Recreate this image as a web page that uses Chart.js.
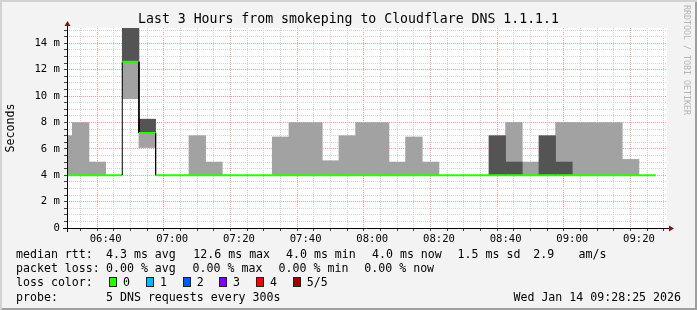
<!DOCTYPE html>
<html>
<head>
<meta charset="utf-8">
<script src="https://cdn.jsdelivr.net/npm/chart.js@4.4.1/dist/chart.umd.min.js"></script>
<style>
html, body { margin: 0; padding: 0; background: #fff; }
#frame {
	position: relative; width: 697px; height: 310px; overflow: hidden;
	background: #f3f3f3;
	box-shadow: inset 2px 2px 0 #d2d2d2, inset -2px -2px 0 #9e9e9e;
	font-family: "DejaVu Sans Mono", monospace; color: #000;
}
#graph { position: absolute; left: 0; top: 0; }
.t { position: absolute; white-space: pre; font-size: 11.6px; line-height: 14px; }
.sq { position: absolute; width: 6px; height: 8px; border: 1px solid #222; }
#title { position: absolute; left: 0; width: 697px; top: 11px; text-align: center; font-size: 13.2px; line-height: 16px; white-space: pre; }
#brand { position: absolute; left: 682px; top: 5px; writing-mode: vertical-rl; font-size: 8.3px; line-height: 10px; color: #b4b4b4; white-space: pre; }
</style>
</head>
<body>
<div id="frame">
	<canvas id="graph" width="697" height="310"></canvas>
	<div id="title">Last 3 Hours from smokeping to Cloudflare DNS 1.1.1.1</div>
	<div id="brand">RRDTOOL / TOBI OETIKER</div>
	<div id="legend"></div>
</div>
<script>
// 5 minute steps, each value holds for the interval that starts at that time
const intervalStart = ['06:25','06:30','06:35','06:40','06:45','06:50','06:55','07:00','07:05','07:10','07:15','07:20',
	'07:25','07:30','07:35','07:40','07:45','07:50','07:55','08:00','08:05','08:10','08:15','08:20',
	'08:25','08:30','08:35','08:40','08:45','08:50','08:55','09:00','09:05','09:10','09:15','09:20'];

// median rtt in ms
const medianMs = [4, 4, 4, 4, 12.6, 7.2, 4, 4, 4, 4, 4, 4,
	4, 4, 4, 4, 4, 4, 4, 4, 4, 4, 4, 4,
	4, 4, 4, 4, 4, 4, 4, 4, 4, 4, 4, 4];

// smoke bands [low, high] in ms
const smokeLight = [[4,7],[4,8],[4,5],null,[9.8,12.6],[6.1,7.2],null,null,[4,7],[4,5],null,null,
	null,[4,6.9],[4,8],[4,8],[4,5.1],[4,7],[4,8],[4,8],[4,5],[4,6.9],[4,5],null,
	null,null,null,[5,8],[4,5],null,[5,8],[4,8],[4,8],[4,8],[4,5.2],null];
const smokeDark = [null,null,null,null,[12.6,15.2],[7.2,8.25],null,null,null,null,null,null,
	null,null,null,null,null,null,null,null,null,null,null,null,
	null,null,[4,7],[4,5],null,[4,7],[4,5],null,null,null,null,null];

const rangeStart = '06:28:25';
const rangeMinutes = 180;
const stepMinutes = 5;
const yMaxMs = 15.16;

// legend texts
const rttStats = ['4.3 ms avg', '12.6 ms max', '4.0 ms min', '4.0 ms now', '1.5 ms sd', '2.9', 'am/s'];
const lossStats = ['0.00 % avg', '0.00 % max', '0.00 % min', '0.00 % now'];
const lossLabels = ['0', '1', '2', '3', '4', '5/5'];
const lossColors = ['#26ff00', '#00b8ff', '#0059ff', '#7e00ff', '#ff0000', '#a10000'];
const probeText = '5 DNS requests every 300s';
const stampText = 'Wed Jan 14 09:28:25 2026';


function toMin(s) {
	const p = s.split(':').map(Number);
	return p[0] * 60 + p[1] + (p[2] || 0) / 60;
}
function hhmm(v) {
	const h = Math.floor(v / 60), m = Math.round(v % 60);
	return String(h).padStart(2, '0') + ':' + String(m).padStart(2, '0');
}

const xMin = toMin(rangeStart);
const xMax = xMin + rangeMinutes;

function bandData(pairs) {
	return pairs.map((p, i) => p ? { x: toMin(intervalStart[i]) + stepMinutes / 2, y: p } : null).filter(Boolean);
}

const medianPoints = [];
intervalStart.forEach((s, i) => {
	const t = toMin(s);
	medianPoints.push({ x: t, y: medianMs[i] }, { x: t + stepMinutes, y: medianMs[i] });
});

const xGrid = [];
for (let v = Math.ceil(xMin / stepMinutes) * stepMinutes; v < xMax; v += stepMinutes) xGrid.push(v);
const yGrid = [];
for (let v = 0; v <= yMaxMs; v += 0.5) yGrid.push(v);

const monoFont = { family: 'DejaVu Sans Mono', size: 10.6 };

const plotBackground = {
	id: 'plotBackground',
	beforeDraw(chart) {
		const a = chart.chartArea, ctx = chart.ctx;
		ctx.save();
		ctx.fillStyle = '#ffffff';
		ctx.fillRect(a.left, a.top, a.right - a.left, a.bottom - a.top);
		ctx.restore();
	}
};

// rrdtool style axes with arrow heads
const arrowAxes = {
	id: 'arrowAxes',
	afterDraw(chart) {
		const a = chart.chartArea, ctx = chart.ctx;
		const x0 = Math.round(a.left) + 0.5, y0 = Math.round(a.bottom) + 0.5;
		ctx.save();
		ctx.strokeStyle = '#000';
		ctx.lineWidth = 1;
		ctx.beginPath();
		ctx.moveTo(a.left - 4, y0); ctx.lineTo(a.right + 3, y0);
		ctx.moveTo(x0, a.bottom + 4); ctx.lineTo(x0, a.top - 4);
		ctx.stroke();
		ctx.fillStyle = '#8b1010';
		ctx.beginPath();
		ctx.moveTo(x0 - 3, a.top - 2); ctx.lineTo(x0 + 3, a.top - 2); ctx.lineTo(x0, a.top - 7);
		ctx.closePath(); ctx.fill();
		ctx.beginPath();
		ctx.moveTo(a.right + 2, y0 - 3); ctx.lineTo(a.right + 2, y0 + 3); ctx.lineTo(a.right + 7, y0);
		ctx.closePath(); ctx.fill();
		ctx.restore();
	}
};

new Chart(document.getElementById('graph'), {
	type: 'bar',
	data: {
		datasets: [{
			type: 'line',
			label: 'median',
			data: medianPoints,
			order: 0,
			borderColor: lossColors[0],
			borderWidth: 2,
			pointRadius: 0,
			tension: 0,
			clip: { left: 0, right: 0, top: 3, bottom: 3 },
			segment: {
				borderColor: c => c.p0.parsed.x === c.p1.parsed.x ? '#000' : lossColors[0],
				borderWidth: c => c.p0.parsed.x === c.p1.parsed.x ? 1 : 2
			}
		}, {
			label: 'smoke dark',
			data: bandData(smokeDark),
			order: 1,
			backgroundColor: '#545454',
			borderWidth: 0,
			barPercentage: 1,
			categoryPercentage: 1,
			grouped: false,
			clip: 0
		}, {
			label: 'smoke light',
			data: bandData(smokeLight),
			order: 2,
			backgroundColor: '#a2a2a2',
			borderWidth: 0,
			barPercentage: 1,
			categoryPercentage: 1,
			grouped: false,
			clip: 0
		}]
	},
	options: {
		responsive: false,
		animation: false,
		devicePixelRatio: 1,
		layout: { padding: { left: 0, right: 30, top: 28, bottom: 60 } },
		plugins: { legend: { display: false }, tooltip: { enabled: false }, title: { display: false } },
		scales: {
			x: {
				type: 'linear',
				min: xMin,
				max: xMax,
				offset: false,
				afterBuildTicks: s => { s.ticks = xGrid.map(v => ({ value: v })); },
				afterFit: s => { s.height = 22; },
				grid: {
					color: c => c.tick && c.tick.value % 20 === 0 ? '#f2a0a0' : '#d4d4d4',
					tickColor: '#444',
					tickLength: 3,
					lineWidth: 1
				},
				border: { display: false, dash: [1, 1] },
				ticks: {
					autoSkip: false,
					maxRotation: 0,
					padding: 2,
					color: '#000',
					font: monoFont,
					callback: v => v % 20 === 0 ? hhmm(v) : ''
				}
			},
			y: {
				type: 'linear',
				min: 0,
				max: yMaxMs,
				afterBuildTicks: s => { s.ticks = yGrid.map(v => ({ value: v })); },
				afterFit: s => { s.width = 67; },
				grid: {
					color: c => c.tick && c.tick.value % 2 === 0 ? '#f2a0a0' : '#d4d4d4',
					tickColor: '#444',
					tickLength: 3,
					lineWidth: 1
				},
				border: { display: false, dash: [1, 1] },
				title: {
					display: true,
					text: 'Seconds',
					color: '#000',
					font: { family: 'DejaVu Sans Mono', size: 11.6 },
					padding: { top: 4, bottom: 4 }
				},
				ticks: {
					autoSkip: false,
					padding: 4,
					color: '#000',
					font: monoFont,
					callback: v => v % 2 === 0 ? (v === 0 ? '0' : v + ' m') : ''
				}
			}
		}
	},
	plugins: [plotBackground, arrowAxes]
});

// text block under the graph
const legend = document.getElementById('legend');
function put(text, x, y, extra) {
	const d = document.createElement('div');
	d.className = 't';
	d.textContent = text;
	d.style.left = x + 'px';
	d.style.top = y + 'px';
	if (extra) Object.assign(d.style, extra);
	legend.appendChild(d);
}
const rowTop = [247.3, 261.3, 275.3, 289.7];
const rttCols = [106, 193.3, 286, 372, 457.6, 533.3, 578.6];
const lossCols = [106, 192.6, 278.6, 364.3];
const swatchCols = [109, 146, 182.7, 219, 256, 292.7];

put('median rtt:', 16, rowTop[0]);
rttStats.forEach((s, i) => put(s, rttCols[i], rowTop[0]));
put('packet loss:', 16, rowTop[1]);
lossStats.forEach((s, i) => put(s, lossCols[i], rowTop[1]));
put('loss color:', 16, rowTop[2]);
lossLabels.forEach((s, i) => {
	const sq = document.createElement('div');
	sq.className = 'sq';
	sq.style.left = swatchCols[i] + 'px';
	sq.style.top = (rowTop[2] + 1.5) + 'px';
	sq.style.background = lossColors[i];
	legend.appendChild(sq);
	put(s, swatchCols[i] + 14, rowTop[2]);
});
put('probe:', 16, rowTop[3]);
put(probeText, 106, rowTop[3]);
put(stampText, 0, rowTop[3], { left: 'auto', right: '16px' });
</script>
</body>
</html>
